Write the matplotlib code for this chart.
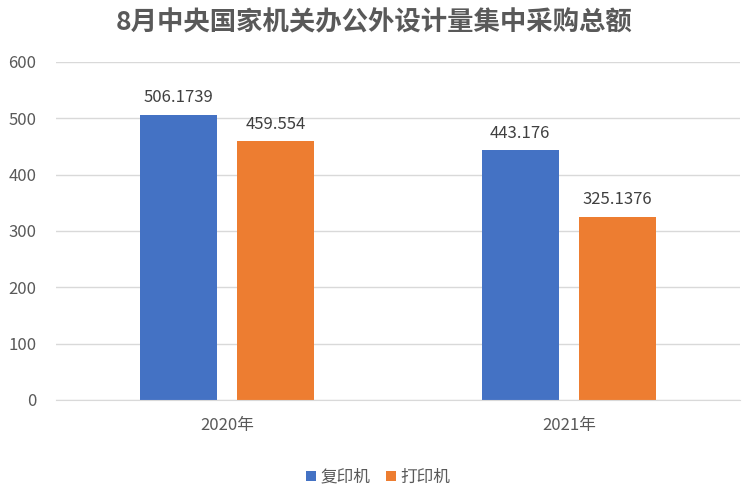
import matplotlib
matplotlib.use("Agg")
import matplotlib.pyplot as plt
import numpy as np

plt.rcParams["font.family"] = ["Noto Sans CJK SC", "DejaVu Sans"]

TITLE = "8月中央国家机关办公外设计量集中采购总额"
CATEGORIES = ["2020年", "2021年"]
SERIES = ["复印机", "打印机"]
COPIER = [506.1739, 443.176]
PRINTER = [459.554, 325.1376]
LABELS_COPIER = ["506.1739", "443.176"]
LABELS_PRINTER = ["459.554", "325.1376"]

C_BLUE = "#4472C4"
C_ORANGE = "#ED7D31"
C_TEXT = "#595959"
C_GRID = "#D9D9D9"

fig = plt.figure(figsize=(7.49, 4.95), dpi=100)
ax = fig.add_axes([0.0748, 0.192, 0.913, 0.683])

x = np.arange(len(CATEGORIES))
w = 0.225
off = 0.1425
b1 = ax.bar(x - off, COPIER, width=w, color=C_BLUE, label=SERIES[0], zorder=3)
b2 = ax.bar(x + off, PRINTER, width=w, color=C_ORANGE, label=SERIES[1], zorder=3)

for bars, labs in ((b1, LABELS_COPIER), (b2, LABELS_PRINTER)):
    for rect, lab in zip(bars, labs):
        ax.annotate(lab, (rect.get_x() + rect.get_width() / 2, rect.get_height()),
                    xytext=(0, 6), textcoords="offset points",
                    ha="center", va="bottom", fontsize=12, color="#404040")

ax.set_xlim(-0.5, len(CATEGORIES) - 0.5)
ax.set_ylim(0, 600)
ax.set_yticks(np.arange(0, 601, 100))
ax.set_xticks(x)
ax.set_xticklabels(CATEGORIES)
ax.tick_params(axis="both", length=0, labelsize=12, labelcolor=C_TEXT)
ax.tick_params(axis="x", pad=12)
ax.tick_params(axis="y", pad=14)
ax.grid(True, axis="y", color=C_GRID, linewidth=1, zorder=0)
for s in ("top", "right", "left"):
    ax.spines[s].set_visible(False)
ax.spines["bottom"].set_color(C_GRID)
ax.spines["bottom"].set_zorder(4)

fig.text(0.5, 0.954, TITLE, ha="center", va="center", fontsize=19,
         fontweight="bold", color=C_TEXT)

fig.legend(handles=[b1, b2], labels=SERIES, loc="center", bbox_to_anchor=(0.505, 0.036),
           ncol=2, frameon=False, fontsize=12, handlelength=0.6, handleheight=0.6,
           handletextpad=0.25, columnspacing=0.95, labelcolor=C_TEXT)

fig.savefig("out.png", dpi=100, facecolor="white")
